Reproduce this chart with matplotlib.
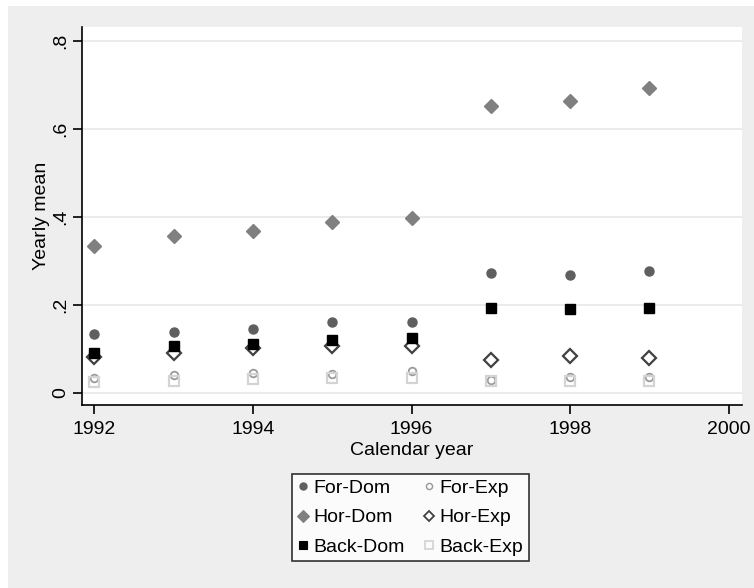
import matplotlib
matplotlib.use("Agg")
import matplotlib.pyplot as plt
from matplotlib.patches import Rectangle
from matplotlib.lines import Line2D

plt.rcParams['font.family'] = ['Liberation Sans', 'DejaVu Sans']

years = [1992, 1993, 1994, 1995, 1996, 1997, 1998, 1999]
for_dom = [0.133, 0.139, 0.145, 0.160, 0.160, 0.273, 0.267, 0.277]
for_exp = [0.033, 0.040, 0.045, 0.043, 0.050, 0.029, 0.036, 0.036]
hor_dom = [0.333, 0.356, 0.367, 0.389, 0.397, 0.652, 0.663, 0.693]
hor_exp = [0.082, 0.091, 0.101, 0.105, 0.105, 0.074, 0.083, 0.078]
back_dom = [0.091, 0.106, 0.110, 0.120, 0.124, 0.192, 0.190, 0.192]
back_exp = [0.025, 0.027, 0.030, 0.033, 0.033, 0.027, 0.027, 0.027]

yticks = [0, 0.2, 0.4, 0.6, 0.8]
ytick_labels = ["0", ".2", ".4", ".6", ".8"]
xticks = [1992, 1994, 1996, 1998, 2000]

W, H = 754, 588
FS = 14
fig = plt.figure(figsize=(W / 100, H / 100), dpi=100)
fig.patch.set_facecolor('white')
fig.patches.append(Rectangle((8 / W, 0), 1 - 8 / W, 1 - 6 / H, transform=fig.transFigure,
                             facecolor='#eeeeee', edgecolor='none', zorder=-10))

ax = fig.add_axes([82 / W, (H - 405) / H, (742 - 82) / W, (405 - 27) / H])
ax.set_facecolor('white')
ax.set_xlim(1991.845, 2000.167)
ax.set_ylim(-0.028, 0.831)

for y in yticks:
    ax.axhline(y, color='#e8e8e8', lw=1.2, zorder=0)

ax.plot(years, for_dom, ls='none', marker='o', ms=6.5, mfc='#5f5f5f', mec='#5f5f5f', label='For-Dom', zorder=3)
ax.plot(years, for_exp, ls='none', marker='o', ms=5.5, mfc='none', mec='#9a9a9a', mew=1.3, label='For-Exp', zorder=3)
ax.plot(years, hor_dom, ls='none', marker='D', ms=7.5, mfc='#808080', mec='#808080', label='Hor-Dom', zorder=3)
ax.plot(years, hor_exp, ls='none', marker='D', ms=7.0, mfc='none', mec='#404040', mew=1.6, label='Hor-Exp', zorder=3)
ax.plot(years, back_dom, ls='none', marker='s', ms=7.7, mfc='black', mec='black', label='Back-Dom', zorder=3)
ax.plot(years, back_exp, ls='none', marker='s', ms=7.0, mfc='none', mec='#d4d4d4', mew=1.6, label='Back-Exp', zorder=3)

for s in ['top', 'right']:
    ax.spines[s].set_visible(False)
for s in ['left', 'bottom']:
    ax.spines[s].set_color('black')
    ax.spines[s].set_linewidth(1.2)

ax.set_yticks(yticks)
ax.set_yticklabels(ytick_labels, rotation=90, va='center')
ax.set_xticks(xticks)
ax.tick_params(axis='both', direction='out', length=6.5, width=1.2, color='black',
               labelsize=FS, labelcolor='black', pad=3)
ax.tick_params(axis='x', pad=5)
ax.set_xlabel('Calendar year', fontsize=FS, labelpad=3)
ax.set_ylabel('Yearly mean', fontsize=FS, labelpad=1)

h = {l.get_label(): l for l in ax.get_lines()}
order = ['For-Dom', 'Hor-Dom', 'Back-Dom', 'For-Exp', 'Hor-Exp', 'Back-Exp']
handles = []
for k in order:
    ln = h[k]
    handles.append(Line2D([], [], ls='none', marker=ln.get_marker(), ms=ln.get_markersize() * 0.8,
                          mfc=ln.get_markerfacecolor(), mec=ln.get_markeredgecolor(),
                          mew=ln.get_markeredgewidth() * 0.8))
leg = fig.legend(handles, order, ncol=2, loc='center', bbox_to_anchor=(410.5 / W, 1 - 517.5 / H),
                 fontsize=FS, frameon=True, fancybox=False, edgecolor='black',
                 handlelength=0.5, handletextpad=0.3, columnspacing=1.0, labelspacing=0.6,
                 borderpad=0.3, borderaxespad=0)
leg.get_frame().set_linewidth(1.2)
leg.get_frame().set_facecolor('white')

fig.savefig('out.png', dpi=100, facecolor=fig.get_facecolor())
